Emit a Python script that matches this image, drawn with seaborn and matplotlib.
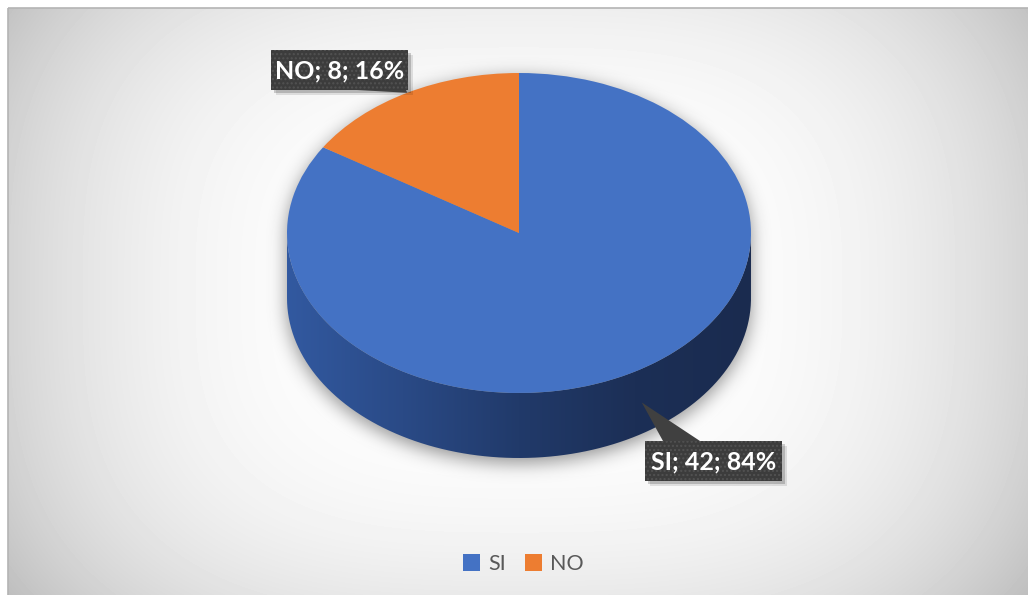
import numpy as np
import matplotlib
matplotlib.use("Agg")
import matplotlib.pyplot as plt
import seaborn as sns
from matplotlib.patches import Rectangle, Polygon, PathPatch
from matplotlib.path import Path
from matplotlib.colors import LinearSegmentedColormap

# ===================== data =====================
labels = ["SI", "NO"]
counts = [42, 8]
colors = ["#4472C4", "#ED7D31"]

sns.set_theme(style="white")
plt.rcParams["font.family"] = ["Lato", "DejaVu Sans"]

W, H = 1028, 595
X0, Y0, RX, RY, D = 519, 233, 232, 160, 65   # pie centre / radii / depth in px
depth = D / RY

fig = plt.figure(figsize=(W / 100, H / 100), dpi=100)

# ---------- background + shadow (pixel coords) ----------
ax_bg = fig.add_axes([0, 0, 1, 1])
ax_bg.set_xlim(0, W)
ax_bg.set_ylim(H, 0)
ax_bg.axis("off")

yy, xx = np.mgrid[0:H, 0:W] + 0.5
r = ((np.abs(xx - 519) / 600) ** 3 + (np.abs(yy - 290) / 450) ** 3) ** (1 / 3)
bg = 255 - 70 * r ** 3
bg = np.clip(bg, 180, 255) / 255
bg[(xx < 8) | (yy < 8)] = 1.0
ax_bg.imshow(bg, cmap="gray", vmin=0, vmax=1, extent=(0, W, H, 0), zorder=0)
ax_bg.add_patch(Rectangle((8, 8), W, H, fill=False, edgecolor="#b4b4b4", lw=1.2, zorder=1))

top = ((xx - X0) / RX) ** 2 + ((yy - Y0) / RY) ** 2 <= 1
bot = ((xx - X0) / RX) ** 2 + ((yy - Y0 - D) / RY) ** 2 <= 1
mid = (np.abs(xx - X0) <= RX) & (yy >= Y0) & (yy <= Y0 + D)
sil = (top | bot | mid).astype(float)
sig = 9
fy = np.fft.fftfreq(H)[:, None]
fx = np.fft.rfftfreq(W)[None, :]
blur = np.fft.irfft2(np.fft.rfft2(sil) * np.exp(-2 * np.pi ** 2 * sig ** 2 * (fx ** 2 + fy ** 2)), s=(H, W))
blur = np.roll(blur, 5, axis=0)
shadow = np.zeros((H, W, 4))
shadow[..., 3] = np.clip(blur, 0, 1) * 0.42
ax_bg.imshow(shadow, extent=(0, W, H, 0), zorder=2)

# ---------- pie (unit coords, ellipse by axis scaling) ----------
ax = fig.add_axes([0, 0, 1, 1])
ax.axis("off")

th = np.linspace(np.pi, 2 * np.pi, 200)
band = np.vstack([np.column_stack([np.cos(th), np.sin(th)]),
                  np.column_stack([np.cos(th[::-1]), np.sin(th[::-1]) - depth])])
side = PathPatch(Path(band), facecolor="none", edgecolor="none")
ax.add_patch(side)
side_cmap = LinearSegmentedColormap.from_list(
    "side", ["#3259a0", "#2a4a86", "#213a6a", "#1c2f56", "#1a2b4f"])
grad = np.tile(np.linspace(0, 1, 256), (2, 1))
im = ax.imshow(grad, cmap=side_cmap, extent=(-1, 1, -1 - depth, 0),
               aspect="auto", zorder=1)
im.set_clip_path(side)

wedges, _ = ax.pie(counts, colors=colors, startangle=90, counterclock=False,
                   radius=1, wedgeprops=dict(linewidth=0, antialiased=True))
for w in wedges:
    w.set_zorder(2)

ax.set_aspect("auto")
ax.set_xlim(-X0 / RX, (W - X0) / RX)
ax.set_ylim(-(H - Y0) / RY, Y0 / RY)
ax.axis("off")

# ---------- data labels (pixel coords) ----------
ax_fg = fig.add_axes([0, 0, 1, 1])
ax_fg.set_xlim(0, W)
ax_fg.set_ylim(H, 0)
ax_fg.axis("off")

total = sum(counts)
angles = []
a0 = 90
for c in counts:
    span = 360 * c / total
    angles.append(np.deg2rad(a0 - span / 2))
    a0 -= span

boxes = {"SI": (645, 441, 137, 40), "NO": (271, 50, 137, 40)}
drop = {"SI": 0.45 * D, "NO": 0}
base = {"SI": (663, 700, "top"), "NO": (357, 406, "bottom")}

for lab, c, ang in zip(labels, counts, angles):
    bx, by, bw, bh = boxes[lab]
    tip = (X0 + RX * np.cos(ang) + (11 if lab == "SI" else 0),
           Y0 - RY * np.sin(ang) + drop[lab])
    x1, x2, side_ = base[lab]
    yb = by if side_ == "top" else by + bh
    # shadow
    for k, a in [(5, 0.10), (3, 0.18)]:
        ax_fg.add_patch(Rectangle((bx + k, by + k), bw, bh, facecolor="black",
                                  alpha=a, edgecolor="none", zorder=3))
    ax_fg.add_patch(Polygon([(x1, yb), (x2, yb), tip], closed=True,
                            facecolor="#404040", edgecolor="none", zorder=4))
    ax_fg.add_patch(Rectangle((bx, by), bw, bh, facecolor="#3c3c3c",
                              edgecolor="none", zorder=4))
    ax_fg.add_patch(Rectangle((bx, by), bw, bh, facecolor="none", edgecolor="#525252",
                              lw=0, hatch="....", zorder=5))
    pct = round(100 * c / total)
    ax_fg.text(bx + bw / 2, by + bh / 2 + 1, f"{lab}; {c}; {pct}%", color="white",
               fontsize=18, fontweight="bold", ha="center", va="center", zorder=6)

# ---------- legend ----------
leg = fig.legend(wedges, labels, loc="center", bbox_to_anchor=(0.509, 0.052),
                 ncol=2, frameon=False, fontsize=15.5, handlelength=0.8,
                 handleheight=0.8, handletextpad=0.35, columnspacing=0.9)
for t in leg.get_texts():
    t.set_color("#595959")

fig.savefig("out.png", dpi=100)
